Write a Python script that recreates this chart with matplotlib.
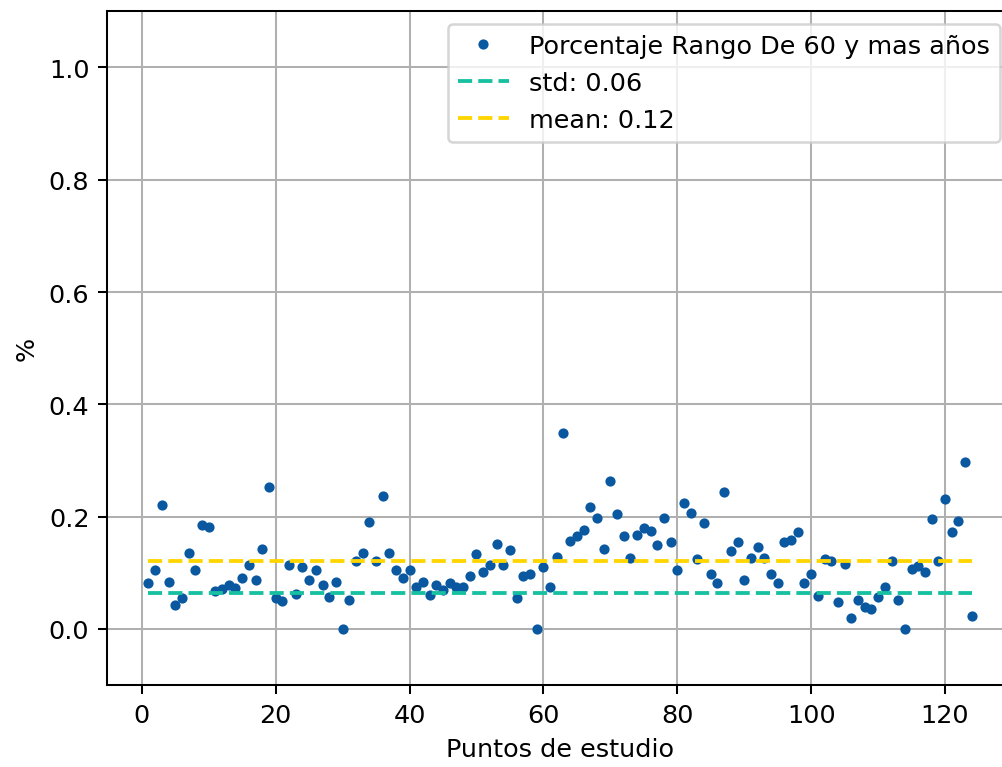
#!/usr/bin/env python3

import numpy as np
import matplotlib
matplotlib.use("Agg")
import matplotlib.pyplot as plt

# valores
puntos = np.arange(1, 125)
porcentaje = [
  0.082, 0.104, 0.220, 0.084, 0.042, 0.055, 0.136, 0.104, 0.185, 0.182,
  0.067, 0.071, 0.078, 0.072, 0.091, 0.114, 0.087, 0.143, 0.253, 0.055,
  0.049, 0.114, 0.062, 0.111, 0.087, 0.104, 0.078, 0.057, 0.084, 0.000,
  0.052, 0.120, 0.136, 0.191, 0.120, 0.237, 0.136, 0.104, 0.091, 0.104,
  0.075, 0.084, 0.061, 0.079, 0.069, 0.082, 0.074, 0.075, 0.095, 0.133,
  0.101, 0.114, 0.152, 0.114, 0.140, 0.055, 0.095, 0.098, 0.000, 0.110,
  0.075, 0.128, 0.348, 0.156, 0.165, 0.176, 0.217, 0.198, 0.143, 0.263,
  0.205, 0.166, 0.127, 0.168, 0.179, 0.175, 0.149, 0.198, 0.155, 0.104,
  0.224, 0.207, 0.124, 0.188, 0.098, 0.081, 0.244, 0.139, 0.155, 0.087,
  0.127, 0.146, 0.127, 0.098, 0.081, 0.155, 0.159, 0.172, 0.081, 0.098,
  0.058, 0.124, 0.120, 0.048, 0.115, 0.019, 0.052, 0.039, 0.036, 0.057,
  0.075, 0.120, 0.052, 0.000, 0.107, 0.112, 0.101, 0.195, 0.120, 0.231,
  0.172, 0.192, 0.298, 0.023,
]
std_val = 0.063
mean_val = 0.121

label_data = "Porcentaje Rango De 60 y mas años"
label_std = "std: 0.06"
label_mean = "mean: 0.12"


def main():
  dpi = 183.5
  fig = plt.figure(figsize=(1003 / dpi, 768 / dpi), dpi=dpi)
  # the original picture is cut on the right side, so the axes go past the edge
  ax = fig.add_axes([107.3 / 1003, 82 / 768, 905.7 / 1003, 673.7 / 768])

  ax.plot(puntos, porcentaje, ".", color="#0a58a0", label=label_data)
  ax.plot([puntos[0], puntos[-1]], [std_val, std_val], "--", color="#17c0a0", label=label_std)
  ax.plot([puntos[0], puntos[-1]], [mean_val, mean_val], "--", color="#ffd500", label=label_mean)

  ax.set_ylim(-0.1, 1.1)
  ax.set_xlabel("Puntos de estudio")
  ax.set_ylabel("%")
  ax.grid(True)
  ax.legend(loc="upper right")

  fig.savefig("out.png", dpi=dpi)


if __name__ == "__main__":
  main()
